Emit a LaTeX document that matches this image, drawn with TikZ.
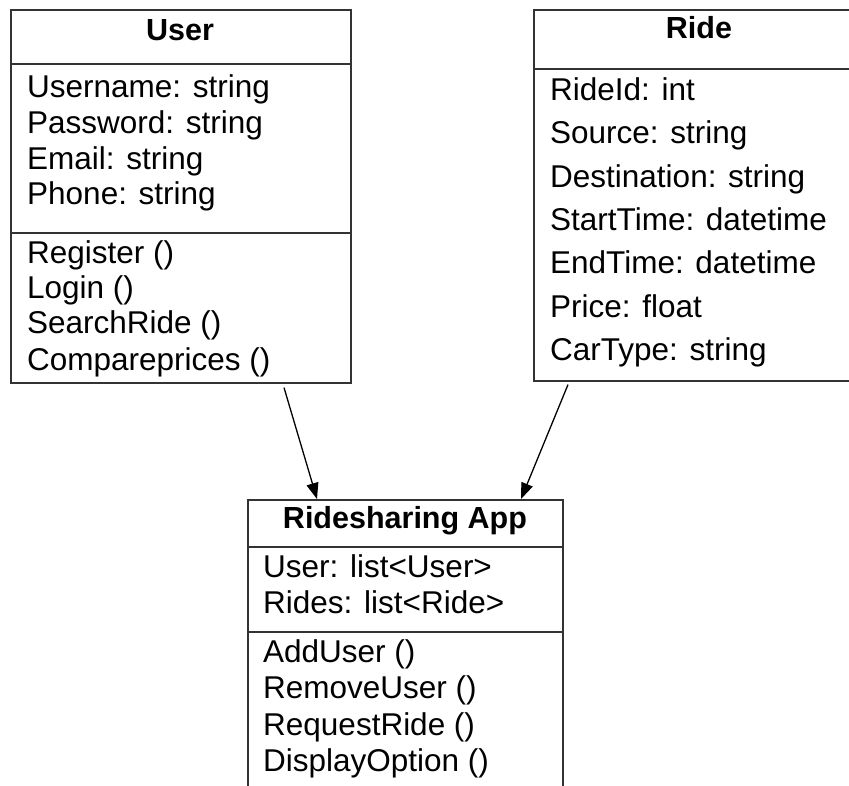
\documentclass[tikz,border=0pt]{standalone}
\usepackage{fontspec}
\setmainfont{Liberation Sans}
\usetikzlibrary{arrows.meta,calc}
\begin{document}
\begin{tikzpicture}[x=1pt,y=-1pt,
  classbox/.style={draw=black!80,line width=1.6pt,fill=white,anchor=north west,inner sep=0pt},
  divider/.style={draw=black!80,line width=1.6pt},
  cname/.style={anchor=base,inner sep=0pt,font=\fontsize{30.5}{36}\selectfont\bfseries},
  member/.style={anchor=base west,inner sep=0pt,font=\fontsize{31.5}{36}\selectfont},
  assoc/.style={draw=black,line width=1.3pt,-{Triangle[length=16pt,width=12pt]}}]
\useasboundingbox (0,0) rectangle (849,785);
\clip (0,0) rectangle (849,785);
\fill[white] (0,0) rectangle (849,785);

% User class
\node[classbox,minimum width=340pt,minimum height=373pt] (user) at (10,9) {};
\draw[divider] (user.west |- 0,64) -- (user.east |- 0,64);
\draw[divider] (user.west |- 0,233) -- (user.east |- 0,233);
\node[cname] (userT) at (180,40) {User};
\node[member] (u1) at (27,97)  {Username: string};
\node[member] (u2) at (27,133) {Password: string};
\node[member] (u3) at (27,169) {Email: string};
\node[member] (u4) at (27,204) {Phone: string};
\node[member] (u5) at (27,263) {Register ()};
\node[member] (u6) at (27,298) {Login ()};
\node[member] (u7) at (27,333) {SearchRide ()};
\node[member] (u8) at (27,370) {Compareprices ()};

% Ride class
\node[classbox,minimum width=332pt,minimum height=371pt] (ride) at (533,9) {};
\draw[divider] (ride.west |- 0,69) -- (ride.east |- 0,69);
\node[cname] (rideT) at (699,38) {Ride};
\node[member] (r1) at (550,100) {RideId: int};
\node[member] (r2) at (550,143) {Source: string};
\node[member] (r3) at (550,187) {Destination: string};
\node[member] (r4) at (550,230) {StartTime: datetime};
\node[member] (r5) at (550,273) {EndTime: datetime};
\node[member] (r6) at (550,317) {Price: float};
\node[member] (r7) at (550,360) {CarType: string};

% Ridesharing App class
\node[classbox,minimum width=315pt,minimum height=320pt] (app) at (247,499) {};
\draw[divider] (app.west |- 0,547) -- (app.east |- 0,547);
\draw[divider] (app.west |- 0,632) -- (app.east |- 0,632);
\node[cname] (appT) at (405,528) {Ridesharing App};
\node[member] (a1) at (263,577) {User: list<User>};
\node[member] (a2) at (263,613) {Rides: list<Ride>};
\node[member] (a3) at (263,662) {AddUser ()};
\node[member] (a4) at (263,698) {RemoveUser ()};
\node[member] (a5) at (263,735) {RequestRide ()};
\node[member] (a6) at (263,771) {DisplayOption ()};

% association ends
\coordinate (userOut) at ($(user.south west)+(274,4)$);
\coordinate (rideOut) at ($(ride.south west)+(35,3)$);
\coordinate (appInU) at ($(app.north west)+(70,0)$);
\coordinate (appInR) at ($(app.north west)+(274,0)$);
\draw[assoc] (userOut) -- (appInU);
\draw[assoc] (rideOut) -- (appInR);
\end{tikzpicture}
\end{document}
